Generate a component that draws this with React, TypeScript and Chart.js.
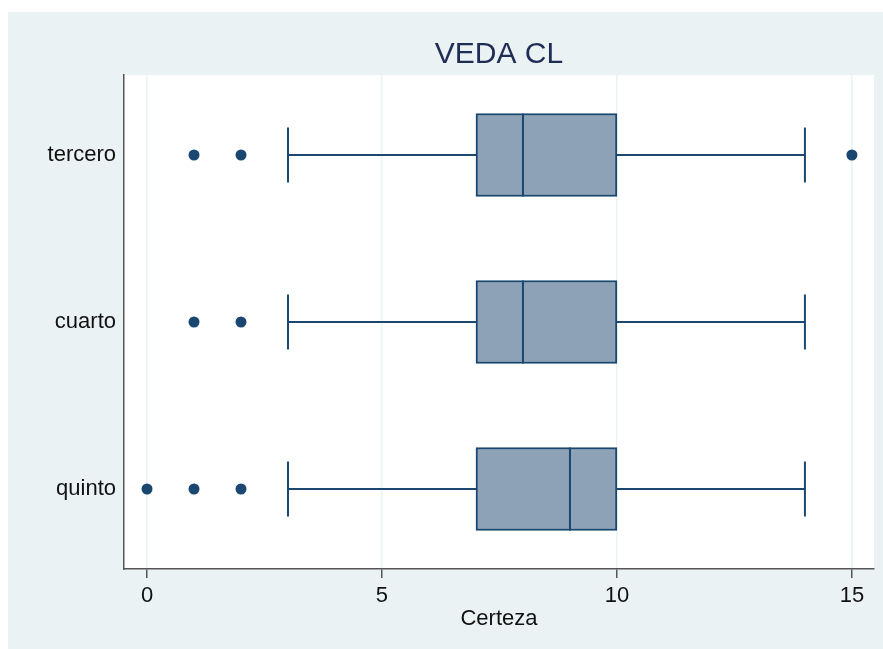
import React, { useEffect, useRef } from "react";
import { Chart, registerables } from "chart.js";

Chart.register(...registerables);

const categories = ["tercero", "cuarto", "quinto"];
const lowerWhisker = [3, 3, 3];
const q1Values = [7, 7, 7];
const medianValues = [8, 8, 9];
const q3Values = [10, 10, 10];
const upperWhisker = [14, 14, 14];
const outlierValues = [[1, 2, 15], [1, 2], [0, 1, 2]];
const xTickValues = [0, 5, 10, 15];
const chartTitle = "VEDA CL";
const xAxisTitle = "Certeza";

const NAVY = "#1A476F";
const BOX_FILL = "#8DA2B7";
const BG = "#EAF2F3";
const FONT = "'Liberation Sans', Arial, sans-serif";

const bgPlugin = {
  id: "bgPlugin",
  beforeDraw(chart: any) {
    const { ctx, chartArea } = chart;
    ctx.save();
    ctx.fillStyle = BG;
    ctx.fillRect(0, 0, chart.width, chart.height);
    ctx.fillStyle = "#ffffff";
    ctx.fillRect(chartArea.left, chartArea.top, chartArea.right - chartArea.left, chartArea.bottom - chartArea.top);
    ctx.restore();
  },
};

export default function App() {
  const ref = useRef<HTMLCanvasElement>(null);
  useEffect(() => {
    document.body.style.margin = "0";
    document.body.style.overflow = "hidden";
    const whiskerSets = categories.map((_, i) => ({
      type: "scatter" as const,
      data: [
        { x: lowerWhisker[i], y: i },
        { x: upperWhisker[i], y: i },
      ],
      showLine: true,
      borderColor: NAVY,
      borderWidth: 2,
      pointRadius: 0,
      order: 5,
    }));
    const capSet = {
      type: "scatter" as const,
      data: categories.flatMap((_, i) => [
        { x: lowerWhisker[i], y: i },
        { x: upperWhisker[i], y: i },
      ]),
      pointStyle: "line",
      rotation: 90,
      pointRadius: 27.5,
      borderColor: NAVY,
      borderWidth: 2,
      showLine: false,
      order: 1,
    };
    const medianSet = {
      type: "scatter" as const,
      data: categories.map((_, i) => ({ x: medianValues[i], y: i })),
      pointStyle: "line",
      rotation: 90,
      pointRadius: 41.5,
      borderColor: NAVY,
      borderWidth: 2,
      showLine: false,
      order: 1,
    };
    const outlierSet = {
      type: "scatter" as const,
      data: categories.flatMap((_, i) => outlierValues[i].map((v) => ({ x: v, y: i }))),
      pointStyle: "circle",
      pointRadius: 5.5,
      backgroundColor: NAVY,
      borderColor: NAVY,
      borderWidth: 0,
      showLine: false,
      order: 1,
    };
    const boxSet = {
      type: "bar" as const,
      indexAxis: "y",
      data: categories.map((_, i) => ({ y: i, x: [q1Values[i], q3Values[i]] })),
      backgroundColor: BOX_FILL,
      borderColor: NAVY,
      borderWidth: 2,
      borderSkipped: false,
      barThickness: 83,
      grouped: false,
      order: 3,
    };

    const chart = new Chart(ref.current as HTMLCanvasElement, {
      type: "bar",
      data: {
        datasets: [...whiskerSets, boxSet, medianSet, capSet, outlierSet] as any,
      },
      options: {
        indexAxis: "y",
        animation: false,
        responsive: false,
        layout: { autoPadding: false, padding: { left: 0, right: 9, top: 0, bottom: 0 } },
        plugins: {
          legend: { display: false },
          tooltip: { enabled: false },
          title: {
            display: true,
            text: chartTitle,
            fullSize: false,
            color: "#1F2D56",
            font: { family: FONT, size: 30, weight: "normal", lineHeight: 1.2 },
            padding: { top: 25, bottom: 2 },
          },
        },
        scales: {
          x: {
            type: "linear",
            position: "bottom",
            offset: false,
            min: -0.49,
            max: 15.47,
            afterBuildTicks: (s: any) => {
              s.ticks = xTickValues.map((v) => ({ value: v }));
            },
            afterFit: (s: any) => {
              s.height = 80;
            },
            grid: {
              offset: false,
              color: BG,
              lineWidth: 1.5,
              tickColor: "#555555",
              tickLength: 9,
              tickWidth: 1.5,
            },
            border: { display: true, color: "#555555", width: 1.5 },
            ticks: {
              color: "#111111",
              font: { family: FONT, size: 22 },
              padding: 5,
              maxRotation: 0,
            },
            title: {
              display: true,
              text: xAxisTitle,
              color: "#111111",
              font: { family: FONT, size: 22, lineHeight: 1.2 },
              padding: { top: 0, bottom: 17 },
            },
          },
          y: {
            type: "linear",
            position: "left",
            reverse: true,
            offset: false,
            min: -0.479,
            max: 2.479,
            afterBuildTicks: (s: any) => {
              s.ticks = categories.map((_, i) => ({ value: i }));
            },
            afterFit: (s: any) => {
              s.width = 116;
            },
            grid: { display: false, drawTicks: false, offset: false },
            border: { display: true, color: "#555555", width: 1.5 },
            ticks: {
              color: "#111111",
              font: { family: FONT, size: 22 },
              padding: 8,
              callback: (v: any) => categories[v] ?? "",
            },
          },
        },
      } as any,
      plugins: [bgPlugin],
    });
    return () => chart.destroy();
  }, []);

  return (
    <div style={{ paddingLeft: 8, paddingTop: 12 }}>
      <canvas ref={ref} width={875} height={637} style={{ display: "block", width: 875, height: 637 }} />
    </div>
  );
}
